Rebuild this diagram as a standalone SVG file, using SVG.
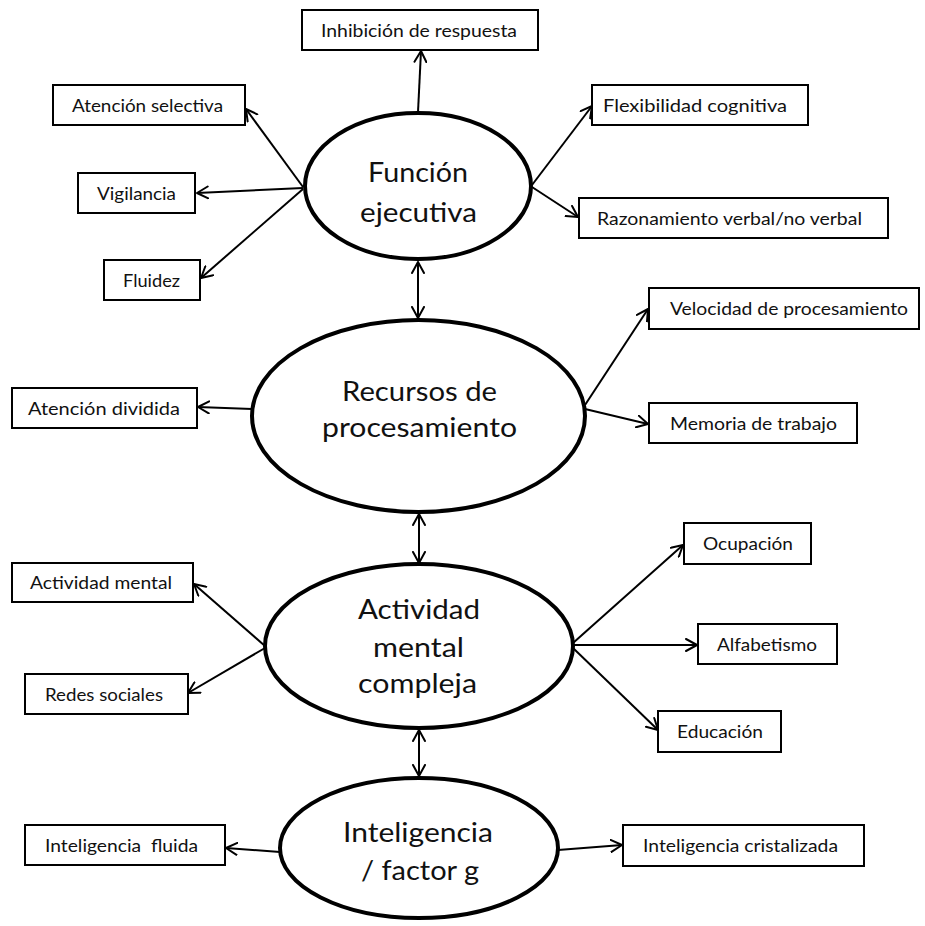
<svg xmlns="http://www.w3.org/2000/svg" width="925" height="926" viewBox="0 0 925 926">
<style>
.box{fill:#fff;stroke:#000;stroke-width:2}
.ell{fill:#fff;stroke:#000;stroke-width:4}
.bt{font-family:Lato,"Liberation Sans",sans-serif;font-size:17px;fill:#111;text-anchor:middle}
.et{font-family:Lato,"Liberation Sans",sans-serif;font-size:27px;fill:#111;text-anchor:middle}
.con line{stroke:#000;stroke-width:2;fill:none;marker-end:url(#ah)}
.con line.bi{marker-start:url(#ah)}
</style>
<defs>
<marker id="ah" viewBox="0 0 13 14" refX="12" refY="7" markerWidth="13" markerHeight="14" markerUnits="userSpaceOnUse" orient="auto-start-reverse">
<path d="M1,1 L12,7 L1,13" fill="none" stroke="#000" stroke-width="2" stroke-linecap="round" stroke-linejoin="round"/>
</marker>
</defs>
<rect width="925" height="926" fill="#fff"/>
<g class="con" id="connectors">
<line x1="418" y1="112" x2="421" y2="51"/>
<line x1="303" y1="187" x2="246" y2="109"/>
<line x1="303" y1="188" x2="197" y2="193"/>
<line x1="303" y1="189" x2="201" y2="278"/>
<line x1="532" y1="185" x2="592" y2="106"/>
<line x1="532" y1="187" x2="578" y2="217"/>
<line class="bi" x1="418" y1="262" x2="418" y2="318"/>
<line x1="252" y1="409" x2="198" y2="407"/>
<line x1="585" y1="405" x2="648" y2="309"/>
<line x1="585" y1="409" x2="648" y2="424"/>
<line class="bi" x1="419" y1="514" x2="419" y2="563"/>
<line x1="265" y1="646" x2="194" y2="584"/>
<line x1="265" y1="648" x2="188" y2="693"/>
<line x1="573" y1="643" x2="683" y2="545"/>
<line x1="573" y1="645" x2="697" y2="645"/>
<line x1="573" y1="648" x2="658" y2="730"/>
<line class="bi" x1="419" y1="730" x2="419" y2="776"/>
<line x1="280" y1="852" x2="226" y2="848"/>
<line x1="558" y1="850" x2="622" y2="845"/>
</g>
<g id="n-funcion"><ellipse class="ell" cx="418" cy="186" rx="113" ry="73"/>
<text class="et" x="418" y="182" textLength="100" lengthAdjust="spacingAndGlyphs">Función</text>
<text class="et" x="418.5" y="222" textLength="117" lengthAdjust="spacingAndGlyphs">ejecutiva</text></g>
<g id="n-recursos"><ellipse class="ell" cx="418.5" cy="416" rx="166.5" ry="96"/>
<text class="et" x="419.5" y="401" textLength="155" lengthAdjust="spacingAndGlyphs">Recursos de</text>
<text class="et" x="419.5" y="437" textLength="195" lengthAdjust="spacingAndGlyphs">procesamiento</text></g>
<g id="n-actividad"><ellipse class="ell" cx="419" cy="646" rx="154" ry="82"/>
<text class="et" x="419" y="619" textLength="122" lengthAdjust="spacingAndGlyphs">Actividad</text>
<text class="et" x="418.5" y="657" textLength="91" lengthAdjust="spacingAndGlyphs">mental</text>
<text class="et" x="417.5" y="693" textLength="119" lengthAdjust="spacingAndGlyphs">compleja</text></g>
<g id="n-inteligencia"><ellipse class="ell" cx="419" cy="848" rx="139" ry="70"/>
<text class="et" x="418" y="842" textLength="150" lengthAdjust="spacingAndGlyphs">Inteligencia</text>
<text class="et" x="420" y="880" textLength="118" lengthAdjust="spacingAndGlyphs">/ factor g</text></g>
<g id="b-inhibicion"><rect class="box" x="302" y="10" width="236" height="40"/><text class="bt" x="419" y="37" textLength="196" lengthAdjust="spacingAndGlyphs">Inhibición de respuesta</text></g>
<g id="b-atsel"><rect class="box" x="53" y="85" width="192" height="40"/><text class="bt" x="147.5" y="112" textLength="151" lengthAdjust="spacingAndGlyphs">Atención selectiva</text></g>
<g id="b-vigilancia"><rect class="box" x="78" y="173" width="117" height="40"/><text class="bt" x="136.5" y="200" textLength="79" lengthAdjust="spacingAndGlyphs">Vigilancia</text></g>
<g id="b-fluidez"><rect class="box" x="104" y="260" width="96" height="40"/><text class="bt" x="151.5" y="287" textLength="57" lengthAdjust="spacingAndGlyphs">Fluidez</text></g>
<g id="b-flex"><rect class="box" x="592" y="85" width="216" height="40"/><text class="bt" x="695" y="112" textLength="184" lengthAdjust="spacingAndGlyphs">Flexibilidad cognitiva</text></g>
<g id="b-razon"><rect class="box" x="579" y="198" width="309" height="40"/><text class="bt" x="729.5" y="225" textLength="265" lengthAdjust="spacingAndGlyphs">Razonamiento verbal/no verbal</text></g>
<g id="b-velocidad"><rect class="box" x="649" y="288" width="270" height="41"/><text class="bt" x="789" y="315" textLength="238" lengthAdjust="spacingAndGlyphs">Velocidad de procesamiento</text></g>
<g id="b-memoria"><rect class="box" x="649" y="403" width="208" height="40"/><text class="bt" x="753.5" y="430" textLength="167" lengthAdjust="spacingAndGlyphs">Memoria de trabajo</text></g>
<g id="b-atdiv"><rect class="box" x="12" y="388" width="185" height="40"/><text class="bt" x="104" y="415" textLength="152" lengthAdjust="spacingAndGlyphs">Atención dividida</text></g>
<g id="b-actmental"><rect class="box" x="12" y="563" width="181" height="39"/><text class="bt" x="101" y="589" textLength="142" lengthAdjust="spacingAndGlyphs">Actividad mental</text></g>
<g id="b-redes"><rect class="box" x="25" y="674" width="163" height="40"/><text class="bt" x="104" y="701" textLength="118" lengthAdjust="spacingAndGlyphs">Redes sociales</text></g>
<g id="b-ocupacion"><rect class="box" x="684" y="523" width="127" height="41"/><text class="bt" x="748" y="550" textLength="90" lengthAdjust="spacingAndGlyphs">Ocupación</text></g>
<g id="b-alfabetismo"><rect class="box" x="698" y="624" width="139" height="40"/><text class="bt" x="767" y="651" textLength="100" lengthAdjust="spacingAndGlyphs">Alfabetismo</text></g>
<g id="b-educacion"><rect class="box" x="658" y="711" width="123" height="41"/><text class="bt" x="720" y="738" textLength="86" lengthAdjust="spacingAndGlyphs">Educación</text></g>
<g id="b-fluida"><rect class="box" x="25" y="825" width="200" height="40"/><text class="bt" x="121.5" y="852" textLength="153" lengthAdjust="spacingAndGlyphs" xml:space="preserve">Inteligencia  fluida</text></g>
<g id="b-cristalizada"><rect class="box" x="623" y="825" width="241" height="41"/><text class="bt" x="740.5" y="852" textLength="195" lengthAdjust="spacingAndGlyphs">Inteligencia cristalizada</text></g>
</svg>
